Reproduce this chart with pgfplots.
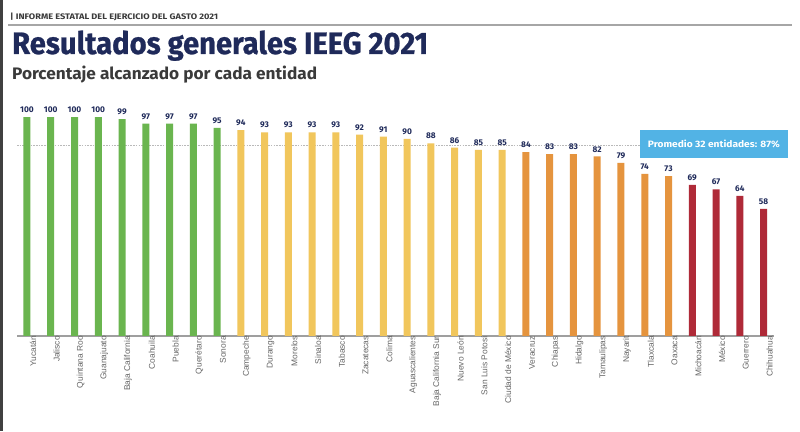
\documentclass[border=0pt]{standalone}
\usepackage{fontspec}
\setmainfont{Fira Sans}
\newfontfamily\heavyf[FakeBold=0.8]{Fira Sans Bold}
\newfontfamily\arialf{Liberation Sans}
\usepackage{graphicx}
\usepackage{pgfplots}
\pgfplotsset{compat=1.18}
\usepackage{pgfplotstable}
\definecolor{cgreen}{HTML}{6AB54F}
\definecolor{cyellow}{HTML}{F1C65C}
\definecolor{corange}{HTML}{E5943E}
\definecolor{cred}{HTML}{AF2A38}
\definecolor{navy}{HTML}{1F2A5A}
\definecolor{boxblue}{HTML}{52B3E5}
\definecolor{subgray}{HTML}{3A3A3A}
\definecolor{lblgray}{HTML}{666666}

\pgfplotstableread{
x y
0 100
1 100
2 100
3 100
4 99
5 97
6 97
7 97
8 95
}\tgreen
\pgfplotstableread{
x y
9 94
10 93
11 93
12 93
13 93
14 92
15 91
16 90
17 88
18 86
19 85
20 85
}\tyellow
\pgfplotstableread{
x y
21 84
22 83
23 83
24 82
25 79
26 74
27 73
}\torange
\pgfplotstableread{
x y
28 69
29 67
30 64
31 58
}\tred

\pgfplotsset{
  mybar/.style={fill=#1, draw=none,
    nodes near coords,
    every node near coord/.append style={font=\bfseries\fontsize{8.3}{9}\selectfont, text=navy, inner sep=1pt, yshift=3pt}}
}

\begin{document}
\begin{tikzpicture}
\path[use as bounding box] (0pt,0pt) rectangle (800pt,431pt);
\fill[white] (0pt,0pt) rectangle (800pt,431pt);
\fill[black!75] (0pt,0pt) rectangle (2.5pt,431pt);
\draw[gray!70, line width=1.6pt] (8pt,406pt) -- (792pt,406pt);
\node[anchor=base west, inner sep=0, text=subgray] at (10pt,411pt) {\resizebox{208pt}{6.5pt}{\bfseries | INFORME ESTATAL DEL EJERCICIO DEL GASTO 2021}};
\node[anchor=base west, inner sep=0, text=navy] at (12pt,377pt) {\resizebox{416pt}{23.5pt}{\heavyf Resultados generales IEEG 2021}};
\node[anchor=base west, inner sep=0, text=subgray] at (12pt,351pt) {\resizebox{305pt}{13.5pt}{\bfseries Porcentaje alcanzado por cada entidad}};

\begin{axis}[at={(17pt,95pt)}, anchor=south west, scale only axis,
  width=757pt, height=226pt,
  xmin=-0.42, xmax=31.44, ymin=0, ymax=103.2,
  axis x line*=bottom, axis y line=none,
  x axis line style={-, color=gray!75, line width=1.2pt},
  ybar, bar width=7pt, bar shift=0pt,
  clip=false,
  /pgf/number format/assume math mode=true,
  xtick={0,...,31}, major tick length=0pt,
  xticklabels={Yucatán,Jalisco,Quintana Roo,Guanajuato,Baja California,Coahuila,Puebla,Querétaro,Sonora,Campeche,Durango,Morelos,Sinaloa,Tabasco,Zacatecas,Colima,Aguascalientes,Baja California Sur,Nuevo León,San Luis Potosí,Ciudad de México,Veracruz,Chiapas,Hidalgo,Tamaulipas,Nayarit,Tlaxcala,Oaxaca,Michoacán,México,Guerrero,Chihuahua},
  xticklabel style={rotate=90, anchor=east, font=\arialf\fontsize{8.4}{9}\selectfont, text=lblgray, inner sep=0pt, yshift=-6pt},
  ytick=\empty,
]
\addplot[sharp plot, forget plot, color=gray!55, line width=0.7pt, dash pattern=on 1.6pt off 1.1pt] coordinates {(-0.42,87) (25.8,87)};
\addplot[mybar=cgreen] table[x=x,y=y] {\tgreen};
\addplot[mybar=cyellow] table[x=x,y=y] {\tyellow};
\addplot[mybar=corange] table[x=x,y=y] {\torange};
\addplot[mybar=cred] table[x=x,y=y] {\tred};
\node[fill=boxblue, text=white, minimum width=148pt, minimum height=28pt, inner sep=0pt] at (axis cs:28.91,87.7) {\resizebox{132pt}{7.5pt}{\bfseries Promedio 32 entidades: 87\%}};
\end{axis}
\end{tikzpicture}
\end{document}
